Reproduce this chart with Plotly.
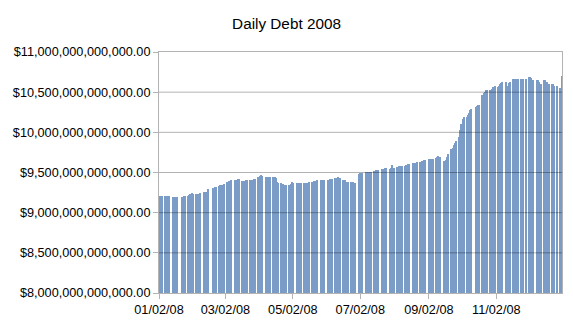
import pandas as pd
import plotly.graph_objects as go

# Daily total public debt outstanding, 2008 (billions of dollars), per business day
jan = [9211, 9210, 9211, 9208, 9208, 9207, 9207, 9208, 9200, 9199, 9199, 9200, 9199,
       9199, 9200, 9205, 9211, 9211, 9220, 9229, 9241]
feb = [9229, 9229, 9232, 9236, 9238, 9241, 9253, 9257, 9260, 9261, 9295,
       9303, 9310, 9318, 9325, 9336, 9340, 9344, 9350, 9357]
mar = [9378, 9385, 9390, 9398, 9405, 9407, 9410, 9412, 9415, 9417,
       9394, 9396, 9400, 9403, 9407, 9407, 9410, 9412, 9416, 9419, 9440]
apr = [9440, 9457, 9469, 9457, 9448, 9448, 9448, 9449, 9448, 9448, 9448, 9428, 9378, 9375,
       9365, 9360, 9355, 9350, 9344, 9344, 9350, 9352]
may = [9378, 9365, 9365, 9366, 9365, 9364, 9365, 9365, 9368, 9372, 9375, 9378,
       9380, 9385, 9390, 9400, 9405, 9407, 9407, 9406, 9407]
jun = [9407, 9410, 9413, 9416, 9419, 9428, 9430, 9440, 9432, 9430,
       9407, 9406, 9405, 9386, 9386, 9386, 9382, 9378, 9375, 9373, 9477]
jul = [9498, 9499, 9498, 9502, 9504, 9506, 9508, 9510, 9519, 9522, 9525, 9528, 9531,
       9544, 9546, 9548, 9550, 9552, 9544, 9552, 9593, 9560]
aug = [9560, 9573, 9574, 9575, 9576, 9578, 9581, 9590, 9597, 9602, 9606,
       9614, 9617, 9620, 9624, 9627, 9635, 9640, 9645, 9650, 9656]
sep = [9668, 9668, 9667, 9668, 9685, 9688, 9705, 9697, 9697, 9647, 9647, 9650, 9689, 9730,
       9793, 9810, 9842, 9870, 9896, 9946, 10029]
oct_ = [10110, 10160, 10187, 10187, 10210, 10237, 10278, 10291, 10320, 10328, 10335, 10340,
        10465, 10485, 10505, 10527, 10527, 10527, 10530, 10545, 10560, 10577]
nov = [10560, 10580, 10600, 10615, 10623, 10623, 10581, 10610, 10623,
       10658, 10660, 10661, 10660, 10659, 10660, 10661, 10660, 10662]
dec = [10685, 10684, 10675, 10652, 10652, 10652, 10652, 10630, 10598, 10600,
       10652, 10650, 10630, 10598, 10598, 10598, 10596, 10577, 10577, 10556, 10556, 10701]

holidays = ["2008-01-01", "2008-01-21", "2008-02-18", "2008-05-26", "2008-07-04",
            "2008-09-01", "2008-10-13", "2008-11-11", "2008-11-27", "2008-12-25"]

tick_dates = ["2008-01-02", "2008-03-02", "2008-05-02", "2008-07-02", "2008-09-02", "2008-11-02"]
tick_text = ["01/02/08", "03/02/08", "05/02/08", "07/02/08", "09/02/08", "11/02/08"]
y_ticks = [8.0e12, 8.5e12, 9.0e12, 9.5e12, 10.0e12, 10.5e12, 11.0e12]

values_b = jan + feb + mar + apr + may + jun + jul + aug + sep + oct_ + nov + dec
dates = pd.bdate_range("2008-01-02", "2008-12-31", freq="C", holidays=holidays)
assert len(dates) == len(values_b), (len(dates), len(values_b))
values = [v * 1e9 for v in values_b]

DAY = 86400000

fig = go.Figure()
fig.add_trace(go.Bar(
    x=dates, y=values,
    width=DAY * 0.97, offset=0,
    marker=dict(color="rgb(122,156,198)", line=dict(width=0)),
    showlegend=False,
))

for yv in y_ticks[1:-1]:
    fig.add_shape(type="line", xref="paper", x0=0, x1=1, yref="y", y0=yv, y1=yv,
                  line=dict(color="rgba(0,0,0,0.30)", width=1), layer="above")

fig.update_layout(
    width=573, height=322,
    margin=dict(l=159, r=11, t=52, b=29, autoexpand=False),
    paper_bgcolor="white", plot_bgcolor="white",
    font=dict(family="Liberation Sans, Arial, sans-serif", size=12.7, color="black"),
    title=dict(text="Daily Debt 2008", x=0.5, xanchor="center", y=1 - 24 / 322,
               yanchor="middle", font=dict(size=15.3, color="black")),
    bargap=0,
)
fig.update_xaxes(
    type="date", range=["2008-01-02", "2008-12-31 10:00"],
    tickmode="array", tickvals=tick_dates, ticktext=tick_text,
    ticks="outside", ticklen=5, tickcolor="#b3b3b3",
    showline=True, linecolor="#b3b3b3", linewidth=1, mirror=True,
    showgrid=False, zeroline=False, automargin=False,
)
fig.update_yaxes(
    range=[8e12, 11e12], tickmode="array", tickvals=y_ticks,
    tickformat="$,.2f",
    ticks="outside", ticklen=5, tickcolor="#b3b3b3",
    showline=True, linecolor="#b3b3b3", linewidth=1, mirror=True,
    showgrid=False, zeroline=False, automargin=False,
)

fig.write_html("out.html")
